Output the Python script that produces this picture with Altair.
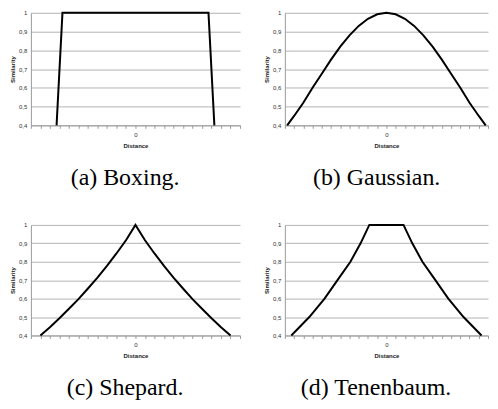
import altair as alt
import pandas as pd

# ---- data ----
x_ticks = list(range(-11, 12))
y_ticks = [0.4, 0.5, 0.6, 0.7, 0.8, 0.9, 1.0]

box_x = [-8.3, -7.68, 7.68, 8.3]
box_y = [0.4, 1.0, 1.0, 0.4]

gauss_x = [-10.75, -10, -9, -8, -7, -6, -5, -4, -3, -2, -1, 0,
           1, 2, 3, 4, 5, 6, 7, 8, 9, 10, 10.75]
gauss_y = [0.40, 0.45, 0.52, 0.60, 0.675, 0.75, 0.82, 0.88, 0.93, 0.968, 0.992, 1.0,
           0.992, 0.968, 0.93, 0.88, 0.82, 0.75, 0.675, 0.60, 0.52, 0.45, 0.40]

shep_x = [-10, -9, -8, -7, -6, -5, -4, -3, -2, -1, 0,
          1, 2, 3, 4, 5, 6, 7, 8, 9, 10]
shep_y = [0.40, 0.445, 0.493, 0.545, 0.597, 0.655, 0.714, 0.778, 0.845, 0.917, 1.0,
          0.917, 0.845, 0.778, 0.714, 0.655, 0.597, 0.545, 0.493, 0.445, 0.40]

ten_x = [-10.3, -8.35, -6.7, -5.3, -3.9, -2.8, -1.85,
         1.85, 2.8, 3.9, 5.3, 6.7, 8.35, 10.3]
ten_y = [0.4, 0.5, 0.6, 0.7, 0.8, 0.9, 1.0,
         1.0, 0.9, 0.8, 0.7, 0.6, 0.5, 0.4]

captions = ["(a) Boxing.", "(b) Gaussian.", "(c) Shepard.", "(d) Tenenbaum."]

GRID = "#b3b3b3"
AXIS = "#9a9a9a"
SANS = "Liberation Sans"
SERIF = "Liberation Serif"


def panel(xs, ys, caption, w, h):
    df = pd.DataFrame({"d": xs, "s": ys, "o": list(range(len(xs)))})
    return (
        alt.Chart(df)
        .mark_line(color="black", strokeWidth=2)
        .encode(
            x=alt.X(
                "d:Q",
                scale=alt.Scale(domain=[-11, 11], nice=False, zero=False),
                axis=alt.Axis(
                    values=x_ticks,
                    title="Distance",
                    labelExpr="datum.value == 0 ? '0' : ''",
                    grid=False,
                    domainColor=AXIS,
                    tickColor=AXIS,
                    tickSize=3,
                    labelPadding=3,
                    labelFont=SANS,
                    labelFontSize=6,
                    labelColor="#333333",
                    titleFont=SANS,
                    titleFontSize=6,
                    titleFontWeight="bold",
                    titleColor="#222222",
                    titlePadding=5,
                ),
            ),
            y=alt.Y(
                "s:Q",
                scale=alt.Scale(domain=[0.4, 1.0], nice=False, zero=False),
                axis=alt.Axis(
                    values=y_ticks,
                    title="Similarity",
                    labelExpr="datum.value >= 0.99 ? '1' : '0,' + round(datum.value * 10)",
                    grid=True,
                    gridColor=GRID,
                    gridWidth=1,
                    ticks=False,
                    domainColor=AXIS,
                    labelPadding=4,
                    labelFont=SANS,
                    labelFontSize=6,
                    labelColor="#333333",
                    titleFont=SANS,
                    titleFontSize=6,
                    titleFontWeight="bold",
                    titleColor="#222222",
                    titlePadding=3,
                ),
            ),
            order="o:Q",
        )
        .properties(
            width=w,
            height=h,
            title=alt.TitleParams(
                caption,
                orient="bottom",
                anchor="middle",
                frame="bounds",
                font=SERIF,
                fontSize=24,
                fontWeight="normal",
                color="black",
                offset=18,
            ),
        )
    )


a = panel(box_x, box_y, captions[0], 210, 113)
b = panel(gauss_x, gauss_y, captions[1], 204, 113)
c = panel(shep_x, shep_y, captions[2], 210, 111)
d = panel(ten_x, ten_y, captions[3], 204, 111)

top = alt.hconcat(a, b, spacing=22)
bottom = alt.hconcat(c, d, spacing=22)

chart = (
    alt.vconcat(top, bottom, spacing=31)
    .properties(padding={"left": 1, "top": 0, "right": 0, "bottom": 0})
    .configure_view(stroke=None)
    .configure_title(font=SERIF, fontSize=24, fontWeight="normal", color="black")
)

chart.save("out.html", embed_options={"renderer": "svg", "actions": False})
